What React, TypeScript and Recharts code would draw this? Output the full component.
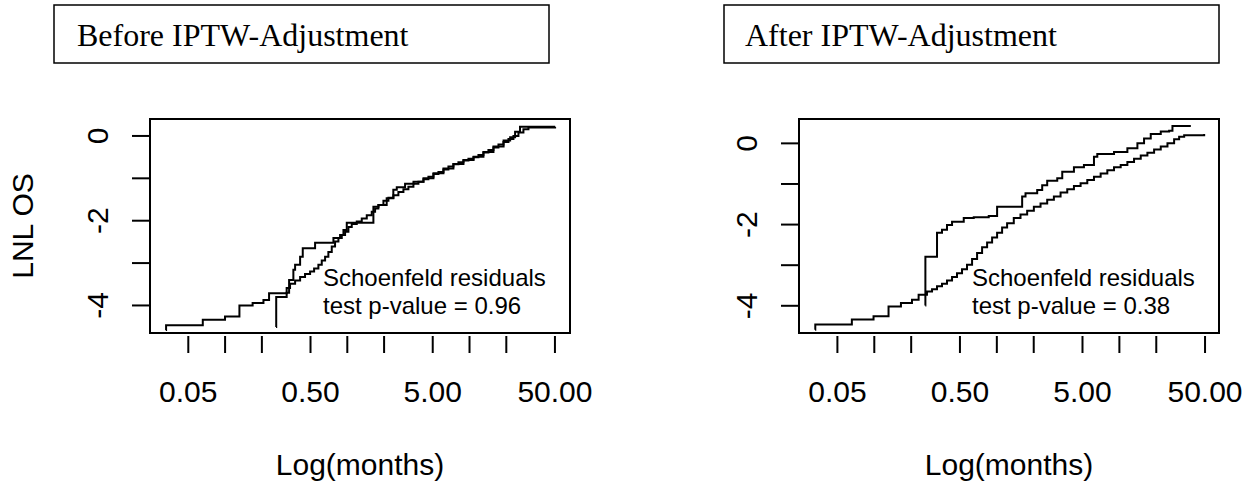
import React from 'react';
import { LineChart, Line, XAxis, YAxis, ReferenceArea } from 'recharts';

type Pt = { t: number; v: number };

// axis ticks: months on a log scale, LNL OS on a linear scale
const monthTicks = [0.05, 0.1, 0.2, 0.5, 1, 2, 5, 10, 20, 50];
const monthLabels: Record<string, string> = { '0.05': '0.05', '0.5': '0.50', '5': '5.00', '50': '50.00' };
const lnlTicks = [-4, -3, -2, -1, 0];
const lnlLabels: Record<string, string> = { '0': '0', '-2': '-2', '-4': '-4' };

// Before IPTW: arm with coarse steps
const beforeCoarse: Pt[] = [
  { t: 0.261, v: -4.51 }, { t: 0.262, v: -3.8 }, { t: 0.319, v: -3.7 }, { t: 0.334, v: -3.4 },
  { t: 0.362, v: -3.16 }, { t: 0.374, v: -3.04 }, { t: 0.411, v: -2.85 }, { t: 0.432, v: -2.65 },
  { t: 0.545, v: -2.52 }, { t: 0.77, v: -2.41 }, { t: 0.873, v: -2.34 }, { t: 0.93, v: -2.22 },
  { t: 0.99, v: -2.05 }, { t: 1.635, v: -1.67 }, { t: 1.8, v: -1.63 }, { t: 2.1, v: -1.47 },
  { t: 2.38, v: -1.27 }, { t: 2.54, v: -1.21 }, { t: 2.97, v: -1.13 }, { t: 3.48, v: -1.08 },
  { t: 4.2, v: -1.0 }, { t: 5.07, v: -0.88 }, { t: 6.12, v: -0.77 }, { t: 7.38, v: -0.66 },
  { t: 8.92, v: -0.57 }, { t: 10.8, v: -0.49 }, { t: 13.0, v: -0.38 }, { t: 15.7, v: -0.25 },
  { t: 19.0, v: -0.11 }, { t: 21.5, v: -0.03 }, { t: 23.6, v: 0.1 }, { t: 25.9, v: 0.22 },
  { t: 50.2, v: 0.22 },
];

// Before IPTW: arm with fine steps
const beforeFine: Pt[] = [
  { t: 0.0327, v: -4.58 }, { t: 0.0329, v: -4.47 }, { t: 0.0657, v: -4.34 }, { t: 0.0999, v: -4.26 },
  { t: 0.131, v: -4.0 }, { t: 0.168, v: -3.94 }, { t: 0.206, v: -3.87 }, { t: 0.229, v: -3.71 },
  { t: 0.319, v: -3.59 }, { t: 0.34, v: -3.49 }, { t: 0.374, v: -3.41 }, { t: 0.411, v: -3.33 },
  { t: 0.451, v: -3.26 }, { t: 0.496, v: -3.2 }, { t: 0.535, v: -3.13 }, { t: 0.58, v: -3.04 },
  { t: 0.618, v: -2.94 }, { t: 0.658, v: -2.85 }, { t: 0.7, v: -2.74 }, { t: 0.746, v: -2.61 },
  { t: 0.794, v: -2.49 }, { t: 0.846, v: -2.41 }, { t: 0.901, v: -2.34 }, { t: 0.959, v: -2.26 },
  { t: 1.021, v: -2.15 }, { t: 1.087, v: -2.08 }, { t: 1.195, v: -2.02 }, { t: 1.313, v: -1.95 },
  { t: 1.443, v: -1.87 }, { t: 1.585, v: -1.79 }, { t: 1.688, v: -1.71 }, { t: 1.797, v: -1.63 },
  { t: 1.975, v: -1.53 }, { t: 2.17, v: -1.46 }, { t: 2.384, v: -1.4 }, { t: 2.619, v: -1.32 },
  { t: 2.878, v: -1.26 }, { t: 3.162, v: -1.2 }, { t: 3.475, v: -1.13 }, { t: 3.818, v: -1.08 },
  { t: 4.196, v: -1.02 }, { t: 4.61, v: -0.96 }, { t: 5.066, v: -0.9 }, { t: 5.567, v: -0.85 },
  { t: 6.116, v: -0.79 }, { t: 6.721, v: -0.72 }, { t: 7.384, v: -0.67 }, { t: 8.113, v: -0.62 },
  { t: 8.918, v: -0.58 }, { t: 9.797, v: -0.54 }, { t: 10.76, v: -0.5 }, { t: 11.83, v: -0.45 },
  { t: 12.99, v: -0.39 }, { t: 14.28, v: -0.33 }, { t: 15.69, v: -0.27 }, { t: 17.25, v: -0.2 },
  { t: 18.95, v: -0.14 }, { t: 20.82, v: -0.07 }, { t: 22.87, v: 0.0 }, { t: 25.13, v: 0.08 },
  { t: 27.61, v: 0.16 }, { t: 30.35, v: 0.2 }, { t: 50.15, v: 0.22 },
];

// After IPTW: arm with coarse steps
const afterCoarse: Pt[] = [
  { t: 0.2607, v: -3.99 }, { t: 0.2612, v: -2.79 }, { t: 0.325, v: -2.2 }, { t: 0.357, v: -2.13 },
  { t: 0.392, v: -2.01 }, { t: 0.431, v: -1.93 }, { t: 0.537, v: -1.84 }, { t: 0.648, v: -1.82 },
  { t: 0.859, v: -1.79 }, { t: 1.005, v: -1.56 }, { t: 1.609, v: -1.31 }, { t: 1.714, v: -1.23 },
  { t: 2.135, v: -1.15 }, { t: 2.345, v: -1.03 }, { t: 2.576, v: -0.92 }, { t: 3.111, v: -0.86 },
  { t: 3.418, v: -0.7 }, { t: 4.257, v: -0.59 }, { t: 5.137, v: -0.53 }, { t: 6.203, v: -0.33 },
  { t: 6.604, v: -0.26 }, { t: 9.042, v: -0.21 }, { t: 11.62, v: -0.12 }, { t: 14.03, v: 0.0 },
  { t: 15.9, v: 0.12 }, { t: 18.03, v: 0.23 }, { t: 21.76, v: 0.29 }, { t: 25.46, v: 0.31 },
  { t: 27.11, v: 0.43 }, { t: 38.28, v: 0.43 },
];

// After IPTW: arm with fine steps
const afterFine: Pt[] = [
  { t: 0.0329, v: -4.59 }, { t: 0.033, v: -4.46 }, { t: 0.0656, v: -4.34 }, { t: 0.0986, v: -4.26 },
  { t: 0.1307, v: -4.02 }, { t: 0.165, v: -3.93 }, { t: 0.203, v: -3.85 }, { t: 0.23, v: -3.73 },
  { t: 0.269, v: -3.65 }, { t: 0.296, v: -3.59 }, { t: 0.325, v: -3.52 }, { t: 0.357, v: -3.46 },
  { t: 0.392, v: -3.38 }, { t: 0.431, v: -3.29 }, { t: 0.473, v: -3.2 }, { t: 0.52, v: -3.1 },
  { t: 0.571, v: -2.99 }, { t: 0.628, v: -2.85 }, { t: 0.69, v: -2.7 }, { t: 0.758, v: -2.56 },
  { t: 0.833, v: -2.44 }, { t: 0.915, v: -2.32 }, { t: 1.005, v: -2.2 }, { t: 1.104, v: -2.07 },
  { t: 1.213, v: -1.97 }, { t: 1.375, v: -1.84 }, { t: 1.56, v: -1.75 }, { t: 1.768, v: -1.66 },
  { t: 2.005, v: -1.56 }, { t: 2.273, v: -1.48 }, { t: 2.576, v: -1.39 }, { t: 2.921, v: -1.31 },
  { t: 3.312, v: -1.21 }, { t: 3.755, v: -1.13 }, { t: 4.257, v: -1.05 }, { t: 4.826, v: -0.98 },
  { t: 5.472, v: -0.9 }, { t: 6.203, v: -0.82 }, { t: 7.033, v: -0.74 }, { t: 7.973, v: -0.66 },
  { t: 9.042, v: -0.59 }, { t: 10.25, v: -0.53 }, { t: 11.62, v: -0.46 }, { t: 13.17, v: -0.38 },
  { t: 14.94, v: -0.3 }, { t: 16.93, v: -0.23 }, { t: 19.2, v: -0.15 }, { t: 21.76, v: -0.08 },
  { t: 24.68, v: 0.0 }, { t: 27.97, v: 0.1 }, { t: 30.73, v: 0.16 }, { t: 33.78, v: 0.2 },
  { t: 49.2, v: 0.23 },
];

const SANS = '"Liberation Sans", Arial, Helvetica, sans-serif';
const SERIF = '"Liberation Serif", "Times New Roman", serif';

const XTick = (props: any) => {
  const { x, y, payload } = props;
  const lab = monthLabels[String(payload.value)];
  return (
    <g>
      <line x1={x} x2={x} y1={y - 15} y2={y + 2} stroke="#000" strokeWidth={2} />
      {lab && (
        <text x={x} y={y + 51} textAnchor="middle" fontSize={30} fontFamily={SANS} fill="#000">
          {lab}
        </text>
      )}
    </g>
  );
};

const YTick = (props: any) => {
  const { x, y, payload } = props;
  const lab = lnlLabels[String(payload.value)];
  if (!lab) return <g />;
  const bx = x - 24;
  return (
    <text x={bx} y={y} transform={`rotate(-90 ${bx} ${y})`} textAnchor="middle" fontSize={30} fontFamily={SANS} fill="#000">
      {lab}
    </text>
  );
};

interface PanelProps {
  coarse: Pt[];
  fine: Pt[];
  xDomain: [number, number];
  yDomain: [number, number];
  width: number;
  margin: { top: number; right: number; bottom: number; left: number };
}

const Panel: React.FC<PanelProps> = ({ coarse, fine, xDomain, yDomain, width, margin }) => (
  <LineChart width={width} height={489} margin={margin}>
    <XAxis
      dataKey="t"
      type="number"
      scale="log"
      domain={xDomain}
      ticks={monthTicks}
      interval={0}
      allowDataOverflow
      axisLine={false}
      tickLine={false}
      tickSize={18}
      tickMargin={0}
      height={60}
      tick={(p: any) => <XTick {...p} />}
    />
    <YAxis
      type="number"
      domain={yDomain}
      ticks={lnlTicks}
      interval={0}
      allowDataOverflow
      axisLine={false}
      tickLine={{ stroke: '#000', strokeWidth: 2 }}
      tickSize={18}
      tickMargin={0}
      width={60}
      tick={(p: any) => <YTick {...p} />}
    />
    <ReferenceArea
      x1={xDomain[0]}
      x2={xDomain[1]}
      y1={yDomain[0]}
      y2={yDomain[1]}
      fill="#fff"
      fillOpacity={0}
      stroke="#000"
      strokeWidth={2}
      ifOverflow="visible"
    />
    <Line data={fine} dataKey="v" type="stepAfter" stroke="#000" strokeWidth={2} dot={false} isAnimationActive={false} />
    <Line data={coarse} dataKey="v" type="stepAfter" stroke="#000" strokeWidth={2} dot={false} isAnimationActive={false} />
  </LineChart>
);

export default function App() {
  return (
    <div style={{ position: 'absolute', left: 0, top: 0, width: 1257, height: 489, background: '#fff' }}>
      <div style={{ position: 'absolute', left: 0, top: 0 }}>
        <Panel
          coarse={beforeCoarse}
          fine={beforeFine}
          xDomain={[0.0243, 66.4]}
          yDomain={[-4.65, 0.4]}
          width={640}
          margin={{ top: 119, right: 70, bottom: 96, left: 90 }}
        />
      </div>
      <div style={{ position: 'absolute', left: 640, top: 0 }}>
        <Panel
          coarse={afterCoarse}
          fine={afterFine}
          xDomain={[0.0243, 65.0]}
          yDomain={[-4.67, 0.6]}
          width={617}
          margin={{ top: 119, right: 38, bottom: 96, left: 99 }}
        />
      </div>
      <svg width={1257} height={489} style={{ position: 'absolute', left: 0, top: 0, pointerEvents: 'none' }}>
        <rect x={54} y={5} width={495} height={58} fill="none" stroke="#000" strokeWidth={1.5} />
        <text x={77} y={46} fontSize={32} fontFamily={SERIF} fill="#000">Before IPTW-Adjustment</text>
        <rect x={724} y={5} width={495} height={58} fill="none" stroke="#000" strokeWidth={1.5} />
        <text x={745} y={46} fontSize={32} fontFamily={SERIF} fill="#000">After IPTW-Adjustment</text>

        <text x={323} y={286} fontSize={24} fontFamily={SANS} fill="#000">Schoenfeld residuals</text>
        <text x={323} y={314} fontSize={24} fontFamily={SANS} fill="#000">test p-value = 0.96</text>
        <text x={972} y={286} fontSize={24} fontFamily={SANS} fill="#000">Schoenfeld residuals</text>
        <text x={972} y={314} fontSize={24} fontFamily={SANS} fill="#000">test p-value = 0.38</text>

        <text x={360} y={475} textAnchor="middle" fontSize={30} fontFamily={SANS} fill="#000">Log(months)</text>
        <text x={1009} y={475} textAnchor="middle" fontSize={30} fontFamily={SANS} fill="#000">Log(months)</text>
        <text x={33} y={226} transform="rotate(-90 33 226)" textAnchor="middle" fontSize={30} fontFamily={SANS} fill="#000">LNL OS</text>
      </svg>
    </div>
  );
}
